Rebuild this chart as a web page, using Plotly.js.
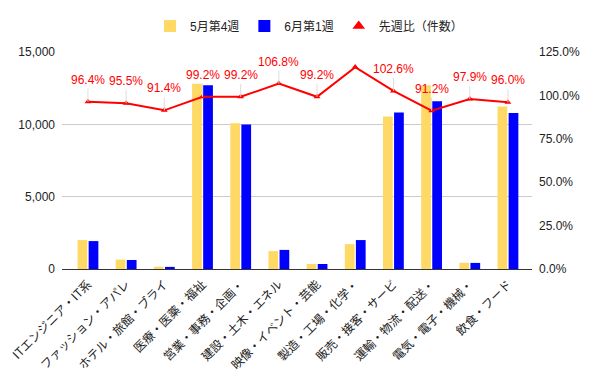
<!DOCTYPE html>
<html>
<head>
<meta charset="utf-8">
<script src="https://cdn.plot.ly/plotly-3.0.1.min.js"></script>
<style>html,body{margin:0;padding:0;background:#fff;}#chart{width:600px;height:371px;}</style>
</head>
<body>
<div id="chart"></div>
<script>
const categories = ["ITエンジニア・IT系", "ファッション・アパレ", "ホテル・旅館・ブライ", "医療・医薬・福祉", "営業・事務・企画・", "建設・土木・エネル", "映像・イベント・芸能", "製造・工場・化学・", "販売・接客・サービ", "運輸・物流・配送・", "電気・電子・機械・", "飲食・フード"];
const week4May = [2000, 650, 160, 12810, 10070, 1240, 350, 1720, 10550, 12710, 430, 11240];
const week1Jun = [1930, 621, 146, 12710, 9990, 1320, 347, 2000, 10820, 11590, 421, 10790];
const ratio = [0.964, 0.955, 0.914, 0.992, 0.992, 1.068, 0.992, 1.163, 1.026, 0.912, 0.979, 0.960];
const ratioLabels = ["96.4%", "95.5%", "91.4%", "99.2%", "99.2%", "106.8%", "99.2%", "", "102.6%", "91.2%", "97.9%", "96.0%"];
const leftTicks = [0, 5000, 10000, 15000];
const leftTickText = ["0", "5,000", "10,000", "15,000"];
const rightTicks = [0, 0.25, 0.5, 0.75, 1.0, 1.25];
const rightTickText = ["0.0%", "25.0%", "50.0%", "75.0%", "100.0%", "125.0%"];

const FONT = "Arial, 'Liberation Sans', 'Noto Sans CJK JP', sans-serif";
const CJK = "'Noto Sans CJK JP', Arial, sans-serif";
const idx = categories.map((_, i) => i);

const traces = [
  {type: 'bar', name: '5月第4週', x: idx, y: week4May, marker: {color: '#FFD966'}, yaxis: 'y', showlegend: false},
  {type: 'bar', name: '6月第1週', x: idx, y: week1Jun, marker: {color: '#0000FF'}, yaxis: 'y', showlegend: false},
  {type: 'scatter', mode: 'lines+markers', name: '先週比（件数）', x: idx, y: ratio, yaxis: 'y2',
   line: {color: '#FF0000', width: 2}, marker: {symbol: 'triangle-up', size: 6, color: '#FF0000'}, showlegend: false},
  {type: 'scatter', mode: 'markers', name: '5月第4週', x: [null], y: [null], yaxis: 'y',
   marker: {symbol: 'square', size: 12, color: '#FFD966'}},
  {type: 'scatter', mode: 'markers', name: '6月第1週', x: [null], y: [null], yaxis: 'y',
   marker: {symbol: 'square', size: 12, color: '#0000FF'}},
  {type: 'scatter', mode: 'markers', name: '先週比（件数）', x: [null], y: [null], yaxis: 'y2',
   marker: {symbol: 'triangle-up', size: 11, color: '#FF0000'}}
];

const annotations = [];
ratioLabels.forEach((t, i) => {
  if (!t) return;
  annotations.push({
    x: idx[i], y: ratio[i], xref: 'x', yref: 'y2', text: t,
    showarrow: true, arrowhead: 0, arrowwidth: 1, arrowcolor: '#dddddd',
    ax: 0, ay: -13, yanchor: 'bottom', standoff: 0,
    font: {family: FONT, size: 12, color: '#FF0000'}
  });
});

const layout = {
  width: 600, height: 371,
  margin: {l: 62, r: 68, t: 52, b: 102, autoexpand: false},
  paper_bgcolor: '#fff', plot_bgcolor: '#fff',
  font: {family: FONT, size: 12, color: '#222'},
  barmode: 'group', bargap: 0.42, bargroupgap: 0.12,
  showlegend: true,
  legend: {orientation: 'h', x: 0.515, xanchor: 'center', xref: 'container', yref: 'container', y: 0.93, yanchor: 'middle',
           font: {family: FONT, size: 12, color: '#222'}, traceorder: 'normal', itemwidth: 30},
  xaxis: {
    range: [-0.68, 11.63], tickmode: 'array', tickvals: idx, ticktext: categories,
    tickangle: -45, ticks: '', showgrid: false, zeroline: false, showline: false, ticklabelstandoff: 5,
    tickfont: {family: CJK, size: 12, color: '#222'}
  },
  yaxis: {
    range: [0, 15000], tickmode: 'array', tickvals: leftTicks, ticktext: leftTickText,
    showgrid: true, gridcolor: '#cccccc', zeroline: true, zerolinecolor: '#333333', zerolinewidth: 1,
    ticks: '', ticklabelstandoff: 6, tickfont: {family: FONT, size: 12, color: '#222'}
  },
  yaxis2: {
    overlaying: 'y', side: 'right', range: [0, 1.25], tickmode: 'array',
    tickvals: rightTicks, ticktext: rightTickText, showgrid: false, zeroline: false,
    ticks: '', ticklabelstandoff: 6, tickfont: {family: FONT, size: 12, color: '#222'}
  },
  annotations: annotations
};

Plotly.newPlot('chart', traces, layout, {displayModeBar: false, responsive: false});
</script>
</body>
</html>
